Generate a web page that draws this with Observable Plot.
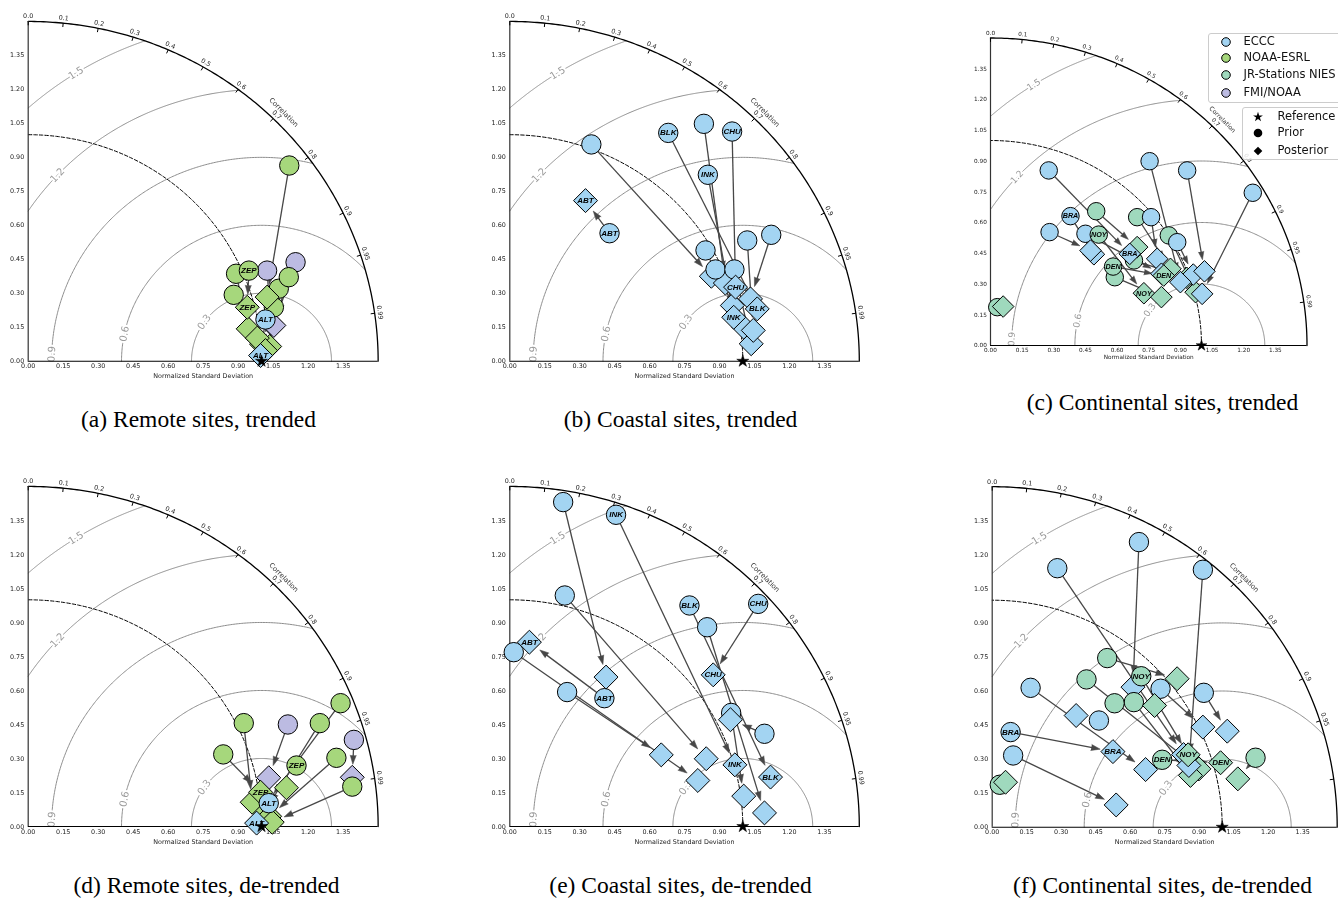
<!DOCTYPE html>
<html>
<head>
<meta charset="utf-8">
<script src="https://cdn.jsdelivr.net/npm/d3@7"></script>
<script src="https://cdn.jsdelivr.net/npm/@observablehq/plot@0.6"></script>
<style>
html,body{margin:0;padding:0;background:#fff;}
#page{position:relative;width:1338px;height:898px;overflow:hidden;font-family:"DejaVu Sans",sans-serif;}
.cap{position:absolute;font-family:"Liberation Serif","Times New Roman",serif;font-size:23.5px;color:#000;white-space:nowrap;transform:translate(-50%,-50%);line-height:1;}
.legend{position:absolute;background:rgba(255,255,255,0.8);border:1px solid #cccccc;border-radius:3px;box-sizing:border-box;}
.li{position:absolute;font-size:11.5px;color:#111;white-space:nowrap;line-height:1;transform:translateY(-50%);font-family:"DejaVu Sans",sans-serif;}
.ls{position:absolute;overflow:visible;}
</style>
</head>
<body>
<div id="page"></div>
<script>
// ---------------- data ----------------
const networks = ["ECCC", "NOAA-ESRL", "JR-Stations NIES", "FMI/NOAA"];
const networkCodes = ["E", "N", "J", "F"];
const networkColors = ["#a3d4f2", "#a6d77c", "#9fd9bd", "#bcbbe2"];
const sdTicks = [0, 0.15, 0.30, 0.45, 0.60, 0.75, 0.90, 1.05, 1.20, 1.35];
const corrTicks = [0, 0.1, 0.2, 0.3, 0.4, 0.5, 0.6, 0.7, 0.8, 0.9, 0.95, 0.99];
const corrTickLabels = ["0.0", "0.1", "0.2", "0.3", "0.4", "0.5", "0.6", "0.7", "0.8", "0.9", "0.95", "0.99"];
const rmsLevels = [0.3, 0.6, 0.9, 1.2, 1.5];
const rmsLabels = ["0.3", "0.6", "0.9", "1.2", "1.5"];
const refStd = 1.0;
const maxStd = 1.5;
const captions = [
  "(a) Remote sites, trended", "(b) Coastal sites, trended", "(c) Continental sites, trended",
  "(d) Remote sites, de-trended", "(e) Coastal sites, de-trended", "(f) Continental sites, de-trended"
];
const refLegend = ["Reference", "Prior", "Posterior"];

// site rows: [network, prior label, prior x, prior y, posterior x, posterior y, posterior label]
// (x = sd * corr, y = sd * sqrt(1 - corr^2), normalized standard deviation)
const sitesA = [
  ["F", "", 1.024, 0.400, 1.040, 0.168, ""],
  ["F", "", 1.146, 0.437, 1.053, 0.158, ""],
  ["N", "", 1.074, 0.320, 1.000, 0.075, ""],
  ["N", "", 1.053, 0.238, 1.035, 0.065, ""],
  ["N", "", 0.891, 0.386, 0.943, 0.143, ""],
  ["N", "", 0.881, 0.293, 0.982, 0.102, ""],
  ["N", "", 1.117, 0.371, 1.017, 0.047, ""],
  ["N", "", 1.119, 0.864, 1.024, 0.283, ""],
  ["N", "ZEP", 0.946, 0.400, 0.939, 0.238, "ZEP"],
  ["E", "ALT", 1.017, 0.184, 0.996, 0.025, "ALT"]
];
const sitesB = [
  ["E", "ABT", 0.428, 0.565, 0.325, 0.709, "ABT"],
  ["E", "", 0.350, 0.957, 0.865, 0.375, ""],
  ["E", "", 0.833, 1.048, 0.925, 0.345, ""],
  ["E", "", 0.840, 0.489, 0.955, 0.246, ""],
  ["E", "", 0.883, 0.405, 1.004, 0.150, ""],
  ["E", "", 0.964, 0.405, 1.036, 0.077, ""],
  ["E", "", 1.019, 0.533, 1.045, 0.136, ""],
  ["E", "", 1.122, 0.558, 1.033, 0.275, ""],
  ["E", "CHU", 0.954, 1.014, 0.969, 0.327, "CHU"],
  ["E", "INK", 0.850, 0.823, 0.961, 0.194, "INK"],
  ["E", "BLK", 0.680, 1.008, 1.062, 0.231, "BLK"]
];
const sitesC = [
  ["J", "", 0.032, 0.187, 0.060, 0.190, ""],
  ["J", "", 0.680, 0.415, 0.930, 0.330, ""],
  ["J", "", 0.501, 0.655, 0.695, 0.480, ""],
  ["E", "", 0.276, 0.854, 0.660, 0.447, "BRA"],
  ["J", "", 0.695, 0.626, 0.853, 0.374, ""],
  ["E", "", 0.761, 0.626, 0.790, 0.423, ""],
  ["J", "", 0.845, 0.537, 0.972, 0.260, ""],
  ["E", "", 0.885, 0.504, 0.961, 0.346, ""],
  ["E", "BRA", 0.379, 0.631, 0.490, 0.445, ""],
  ["E", "", 0.450, 0.545, 0.810, 0.350, ""],
  ["E", "", 0.280, 0.553, 0.474, 0.463, ""],
  ["J", "NOY", 0.513, 0.541, 0.727, 0.255, "NOY"],
  ["J", "", 0.589, 0.333, 0.810, 0.236, ""],
  ["J", "DEN", 0.581, 0.385, 0.821, 0.341, "DEN"],
  ["E", "", 0.754, 0.899, 0.900, 0.309, ""],
  ["E", "", 0.932, 0.854, 1.014, 0.362, ""],
  ["E", "", 1.243, 0.745, 1.003, 0.252, ""]
];
const sitesD = [
  ["F", "", 1.113, 0.450, 1.031, 0.215, ""],
  ["F", "", 1.396, 0.382, 1.389, 0.217, ""],
  ["N", "", 1.339, 0.544, 1.020, 0.100, ""],
  ["N", "", 1.250, 0.456, 1.010, 0.060, ""],
  ["N", "", 1.321, 0.303, 1.035, 0.045, ""],
  ["N", "", 1.389, 0.176, 1.046, 0.019, ""],
  ["N", "", 0.924, 0.456, 0.960, 0.107, ""],
  ["N", "", 0.836, 0.318, 0.996, 0.151, "ZEP"],
  ["N", "ZEP", 1.150, 0.269, 1.107, 0.171, ""],
  ["E", "ALT", 1.031, 0.103, 0.979, 0.015, "ALT"]
];
const sitesE = [
  ["E", "", 0.229, 1.431, 0.413, 0.659, ""],
  ["E", "INK", 0.456, 1.375, 0.966, 0.272, "INK"],
  ["E", "", 0.236, 1.019, 0.843, 0.299, ""],
  ["E", "BLK", 0.771, 0.975, 1.119, 0.218, "BLK"],
  ["E", "CHU", 1.066, 0.982, 0.873, 0.669, "CHU"],
  ["E", "", 0.847, 0.879, 1.093, 0.060, ""],
  ["E", "", 0.017, 0.769, 0.807, 0.203, ""],
  ["E", "", 0.246, 0.593, 0.650, 0.316, ""],
  ["E", "ABT", 0.406, 0.566, 0.084, 0.813, "ABT"],
  ["E", "", 0.950, 0.501, 1.004, 0.134, ""],
  ["E", "", 1.093, 0.409, 0.947, 0.471, ""]
];
const sitesF = [
  ["E", "", 0.638, 1.256, 0.612, 0.617, ""],
  ["E", "", 0.283, 1.141, 0.832, 0.320, ""],
  ["J", "", 0.410, 0.651, 0.899, 0.257, ""],
  ["J", "", 0.616, 0.551, 0.862, 0.228, ""],
  ["E", "", 0.916, 1.134, 0.855, 0.272, ""],
  ["E", "", 0.167, 0.614, 0.667, 0.254, ""],
  ["E", "", 0.732, 0.610, 0.916, 0.441, ""],
  ["E", "", 0.920, 0.592, 1.022, 0.423, ""],
  ["E", "", 0.464, 0.470, 0.365, 0.492, ""],
  ["E", "BRA", 0.080, 0.419, 0.525, 0.333, "BRA"],
  ["E", "", 0.091, 0.316, 0.539, 0.098, ""],
  ["J", "", 0.500, 0.745, 0.804, 0.654, ""],
  ["J", "NOY", 0.648, 0.665, 0.852, 0.319, "NOY"],
  ["J", "", 0.532, 0.546, 0.706, 0.536, ""],
  ["J", "DEN", 0.739, 0.297, 0.993, 0.284, "DEN"],
  ["J", "", 1.145, 0.306, 1.068, 0.213, ""],
  ["J", "", 0.033, 0.187, 0.058, 0.198, ""]
];
const panelSites = [sitesA, sitesB, sitesC, sitesD, sitesE, sitesF];

// ---------------- layout ----------------
const pageWidth = 1338;
const layouts = [
  {left: 0, top: 0, width: 440, height: 400, ox: 27.7, oy: 360.7, sx: 233.3, sy: 226.5, k: 1, labelDy: 15},
  {left: 482, top: 0, width: 440, height: 400, ox: 509.3, oy: 360.7, sx: 233, sy: 226.5, k: 1, labelDy: 15},
  {left: 962, top: 10, width: 376, height: 365, ox: 990, oy: 345, sx: 211, sy: 205, k: 0.9, labelDy: 12},
  {left: 0, top: 466, width: 440, height: 400, ox: 27.7, oy: 826, sx: 233.3, sy: 226.7, k: 1, labelDy: 15},
  {left: 482, top: 466, width: 440, height: 400, ox: 509.3, oy: 826, sx: 233, sy: 226.7, k: 1, labelDy: 15},
  {left: 962, top: 466, width: 376, height: 400, ox: 991.7, oy: 826.7, sx: 230, sy: 227, k: 1, labelDy: 15}
];
const captionPos = [[198.5, 420], [680.5, 420], [1162.5, 403], [206.5, 886], [680.5, 886], [1162.5, 886]];
const rmsLabelAngles = [144.8, 168.4, 178, 136.8, 122]; // degrees around the reference point
const corrTitleAngle = 45.1;

const page = document.getElementById("page");
const colorOf = c => networkColors[networkCodes.indexOf(c)];
const DEG = Math.PI / 180;

function makePanel(sites, L, useSpike) {
  const {left, top, width, height, ox, oy, sx, sy, k, labelDy} = L;
  const rc = 9.7 * k, rd = 10.8 * k, fs = 6.4 * k, lf = 8 * k, insE = 13 * k;
  const mL = ox - left, mT = (oy - top) - maxStd * sy, mR = width - mL - maxStd * sx, mB = height - (oy - top);
  const marks = [];

  // RMSD contours around the reference point
  rmsLevels.forEach(R => {
    const xo = (maxStd * maxStd - R * R + refStd * refStd) / (2 * refStd);
    const a0 = xo < refStd + R ? Math.acos((xo - refStd) / R) : 0;
    const a1 = R > refStd ? Math.acos(-refStd / R) : Math.PI;
    const pts = d3.range(241).map(i => {
      const a = a0 + (a1 - a0) * i / 240;
      return [refStd + R * Math.cos(a), R * Math.sin(a)];
    });
    marks.push(Plot.line(pts, {x: d => d[0], y: d => d[1], stroke: "#8c8c8c", strokeWidth: 1}));
  });
  marks.push(Plot.text(rmsLevels, {
    x: (R, i) => refStd + R * Math.cos(rmsLabelAngles[i] * DEG),
    y: (R, i) => R * Math.sin(rmsLabelAngles[i] * DEG),
    text: (R, i) => rmsLabels[i],
    rotate: (R, i) => 90 - rmsLabelAngles[i],
    fill: "#9a9a9a", stroke: "white", strokeWidth: 4, paintOrder: "stroke",
    fontSize: 10 * k, fontFamily: "DejaVu Sans"
  }));

  // reference std dashed arc
  const quarter = r => d3.range(181).map(i => [r * Math.cos(i * Math.PI / 360), r * Math.sin(i * Math.PI / 360)]);
  marks.push(Plot.line(quarter(refStd), {x: d => d[0], y: d => d[1], stroke: "#000", strokeWidth: 1, strokeDasharray: "3.5,2"}));
  // outer arc + axes
  marks.push(Plot.line(quarter(maxStd), {x: d => d[0], y: d => d[1], stroke: "#000", strokeWidth: 1.3}));
  marks.push(Plot.ruleX([0], {y1: 0, y2: maxStd, stroke: "#333", strokeWidth: 1.2}));
  marks.push(Plot.ruleY([0], {x1: 0, x2: maxStd, stroke: "#000", strokeWidth: 1.1}));

  // sd tick labels
  marks.push(Plot.text(sdTicks, {x: d => d, y: 0, dy: 2.5 * k, lineAnchor: "top", text: d => d.toFixed(2), fontSize: fs, fill: "#222"}));
  marks.push(Plot.text(sdTicks, {x: 0, y: d => d, dx: -4 * k, textAnchor: "end", text: d => d.toFixed(2), fontSize: fs, fill: "#222"}));
  marks.push(Plot.text(["Normalized Standard Deviation"], {x: 0.75, y: 0, dy: labelDy, text: d => d, fontSize: fs, fill: "#222"}));

  // correlation ticks & labels (labels that would fall past the page edge are not drawn)
  const tin = 4 / sx;
  marks.push(Plot.link(corrTicks, {
    x1: c => maxStd * c, y1: c => maxStd * Math.sqrt(1 - c * c),
    x2: c => (maxStd - tin) * c, y2: c => (maxStd - tin) * Math.sqrt(1 - c * c),
    stroke: "#000", strokeWidth: 1
  }));
  const rl = maxStd + 5.3 / sx;
  const visibleCorr = corrTicks.filter(c => ox + rl * c * sx + 4 < pageWidth);
  marks.push(Plot.text(visibleCorr, {
    x: c => rl * c, y: c => rl * Math.sqrt(1 - c * c),
    text: c => corrTickLabels[corrTicks.indexOf(c)],
    rotate: c => 90 - Math.acos(c) / DEG,
    fontSize: fs, fill: "#222"
  }));
  const rt = maxStd + 12 / sx;
  marks.push(Plot.text(["Correlation"], {
    x: rt * Math.cos(corrTitleAngle * DEG), y: rt * Math.sin(corrTitleAngle * DEG),
    text: d => d, rotate: 90 - corrTitleAngle, fontSize: fs * 1.08, fill: "#333"
  }));

  // arrows prior -> posterior
  const arrows = [];
  sites.forEach(s => {
    const [n, lp, px, py, qx, qy] = s;
    const dxs = (qx - px) * sx, dys = (qy - py) * sy, len = Math.hypot(dxs, dys);
    if (len < rc + insE + 4) return;
    const ux = dxs / len, uy = dys / len;
    arrows.push({
      x1: px + ux * rc / sx, y1: py + uy * rc / sy,
      x2: qx - ux * (insE + 4) / sx, y2: qy - uy * (insE + 4) / sy,
      tx: qx - ux * insE / sx, ty: qy - uy * insE / sy,
      rot: Math.atan2(dxs, dys) / DEG
    });
  });
  if (useSpike) {
    marks.push(Plot.link(arrows, {x1: "x1", y1: "y1", x2: "x2", y2: "y2", stroke: "#474747", strokeWidth: 1.3}));
    marks.push(Plot.vector(arrows, {x: "tx", y: "ty", rotate: "rot", length: 9 * k, r: 3 * k, anchor: "end", shape: "spike",
      fill: "#474747", fillOpacity: 1, stroke: "#474747", strokeWidth: 0.5}));
  } else {
    marks.push(Plot.arrow(arrows, {x1: "x1", y1: "y1", x2: "tx", y2: "ty", stroke: "#474747", strokeWidth: 1.3, headLength: 8}));
  }

  // markers, site by site (prior circle, then posterior diamond)
  const lab = {fontSize: lf, fontWeight: "bold", fontStyle: "italic", fontFamily: "Liberation Sans, Arial, sans-serif", fill: "#000"};
  sites.forEach(s => {
    const col = colorOf(s[0]);
    marks.push(Plot.dot([s], {x: d => d[2], y: d => d[3], r: rc, fill: col, stroke: "#000", strokeWidth: 1}));
    if (s[1]) marks.push(Plot.text([s], {x: d => d[2], y: d => d[3], text: d => d[1], ...lab}));
    marks.push(Plot.dot([s], {x: d => d[4], y: d => d[5], r: rd, symbol: "diamond2", fill: col, stroke: "#000", strokeWidth: 1}));
    if (s[6]) marks.push(Plot.text([s], {x: d => d[4], y: d => d[5], text: d => d[6], ...lab}));
  });

  // reference star
  marks.push(Plot.dot([refStd], {x: d => d, y: 0, symbol: "star", r: 3.8 * k, fill: "#000", stroke: "#000", strokeWidth: 0.5}));

  return Plot.plot({
    width, height,
    marginLeft: mL, marginTop: mT, marginRight: mR, marginBottom: mB,
    x: {domain: [0, maxStd], axis: null},
    y: {domain: [0, maxStd], axis: null},
    style: {background: "transparent", overflow: "visible", maxWidth: "none", fontFamily: "DejaVu Sans", willChange: "transform"},
    marks
  });
}

panelSites.forEach((sites, i) => {
  const L = layouts[i];
  let svg;
  try { svg = makePanel(sites, L, true); }
  catch (e) { svg = makePanel(sites, L, false); }
  svg.style.position = "absolute";
  svg.style.left = L.left + "px";
  svg.style.top = L.top + "px";
  page.appendChild(svg);
  const c = document.createElement("div");
  c.className = "cap";
  c.textContent = captions[i];
  c.style.left = captionPos[i][0] + "px";
  c.style.top = captionPos[i][1] + "px";
  page.appendChild(c);
});

// ---------------- legends (panel c) ----------------
function addBox(x, y, w, h) {
  const b = document.createElement("div");
  b.className = "legend";
  Object.assign(b.style, {left: x + "px", top: y + "px", width: w + "px", height: h + "px"});
  page.appendChild(b);
}
function addSym(x, y, type, fill) {
  const s = d3.create("svg").attr("class", "ls").attr("width", 14).attr("height", 14)
    .style("left", (x - 7) + "px").style("top", (y - 7) + "px");
  if (type === "circle") s.append("circle").attr("cx", 7).attr("cy", 7).attr("r", 4.3).attr("fill", fill).attr("stroke", "#000").attr("stroke-width", 1);
  else {
    const sym = type === "star" ? d3.symbolStar : d3.symbolDiamond2;
    const size = type === "star" ? 30 : 48;
    s.append("path").attr("transform", "translate(7,7)").attr("d", d3.symbol(sym, size)()).attr("fill", fill);
  }
  page.appendChild(s.node());
}
function addLabel(x, y, t) {
  const d = document.createElement("div");
  d.className = "li";
  d.textContent = t;
  d.style.left = x + "px";
  d.style.top = y + "px";
  page.appendChild(d);
}
addBox(1208, 32.5, 200, 70.5);
const netY = [41.7, 58.3, 75, 92.5];
networks.forEach((n, i) => { addSym(1225.5, netY[i], "circle", networkColors[i]); addLabel(1243.5, netY[i], n); });
addBox(1242, 107.3, 200, 53);
const refY = [116.5, 133.3, 150.5];
const refTypes = ["star", "circle", "diamond"];
refLegend.forEach((n, i) => {
  if (refTypes[i] === "circle") {
    const s = d3.create("svg").attr("class", "ls").attr("width", 14).attr("height", 14)
      .style("left", (1258 - 7) + "px").style("top", (refY[i] - 7) + "px");
    s.append("circle").attr("cx", 7).attr("cy", 7).attr("r", 4.3).attr("fill", "#000");
    page.appendChild(s.node());
  } else addSym(1258, refY[i], refTypes[i], "#000");
  addLabel(1277.5, refY[i], n);
});
</script>
</body>
</html>
